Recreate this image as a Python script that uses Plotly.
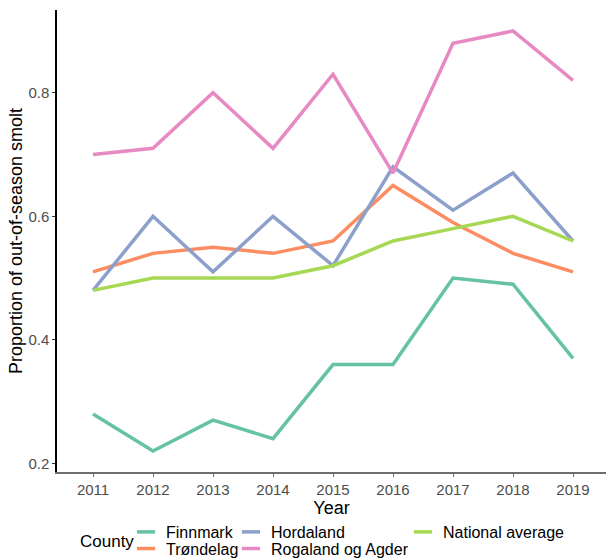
import plotly.graph_objects as go

years = [2011, 2012, 2013, 2014, 2015, 2016, 2017, 2018, 2019]
finnmark = [0.28, 0.22, 0.27, 0.24, 0.36, 0.36, 0.50, 0.49, 0.37]
trondelag = [0.51, 0.54, 0.55, 0.54, 0.56, 0.65, 0.59, 0.54, 0.51]
hordaland = [0.48, 0.60, 0.51, 0.60, 0.52, 0.68, 0.61, 0.67, 0.56]
rogaland = [0.70, 0.71, 0.80, 0.71, 0.83, 0.67, 0.88, 0.90, 0.82]
national = [0.48, 0.50, 0.50, 0.50, 0.52, 0.56, 0.58, 0.60, 0.56]

names = ["Finnmark", "Trøndelag", "Hordaland", "Rogaland og Agder", "National average"]
series = [finnmark, trondelag, hordaland, rogaland, national]
colors = ["#66C2A5", "#FC8D62", "#8DA0CB", "#E78AC3", "#A6D854"]
legend_ids = ["legend", "legend2", "legend3", "legend4", "legend5"]
# legend entry anchor positions (paper fractions): column-major like ggplot
legend_x = [0.1257, 0.1257, 0.3169, 0.3169, 0.6302]
legend_y = [-0.093, -0.129, -0.093, -0.129, -0.093]

FONT = "Liberation Sans, Arial, sans-serif"

fig = go.Figure()
for name, vals, col in zip(names, series, colors):
    fig.add_trace(go.Scatter(x=years, y=vals, mode="lines", name=name,
                             line=dict(color=col, width=3.5), showlegend=False))
# legend-only entries with short line symbols
for name, col, lg in zip(names, colors, legend_ids):
    fig.add_trace(go.Scatter(x=[None], y=[None], mode="markers", name=name, legend=lg,
                             marker=dict(symbol="line-ew", size=13,
                                         line=dict(color=col, width=3.5))))

legend_layouts = {}
for lg, lx, ly in zip(legend_ids, legend_x, legend_y):
    legend_layouts[lg] = dict(orientation="v", x=lx, y=ly, xanchor="left", yanchor="top",
                              font=dict(family=FONT, size=16, color="#000"),
                              bgcolor="rgba(0,0,0,0)", itemwidth=30, itemsizing="trace")

fig.update_layout(
    width=606, height=558,
    margin=dict(l=57, r=0, t=10, b=86, autoexpand=False),
    plot_bgcolor="white", paper_bgcolor="white",
    font=dict(family=FONT, color="#000"),
    xaxis=dict(range=[2010.4, 2019.55], tickmode="array", tickvals=years,
               ticktext=[str(y) for y in years],
               showgrid=False, zeroline=False, showline=True, linecolor="#6e6e6e", linewidth=1.5,
               ticks="outside", ticklen=3, tickcolor="#6e6e6e", tickwidth=1,
               tickfont=dict(family=FONT, size=15, color="#4d4d4d"),
               title=dict(text="Year", font=dict(family=FONT, size=18, color="#000"), standoff=0)),
    yaxis=dict(range=[0.186, 0.934], tickmode="array", tickvals=[0.2, 0.4, 0.6, 0.8],
               ticktext=["0.2", "0.4", "0.6", "0.8"],
               showgrid=False, zeroline=False, showline=True, linecolor="#000", linewidth=1.5,
               ticks="outside", ticklen=3, tickcolor="#333", tickwidth=1,
               tickfont=dict(family=FONT, size=15, color="#4d4d4d"),
               title=dict(text="Proportion of out-of-season smolt",
                          font=dict(family=FONT, size=18, color="#000"), standoff=1)),
    annotations=[dict(text="County", xref="paper", yref="paper", x=(78 - 57) / 549,
                      y=(472 - 541) / 462, xanchor="left", yanchor="middle", showarrow=False,
                      font=dict(family=FONT, size=17, color="#000"))],
    **legend_layouts,
)

fig.write_html("out.html")
